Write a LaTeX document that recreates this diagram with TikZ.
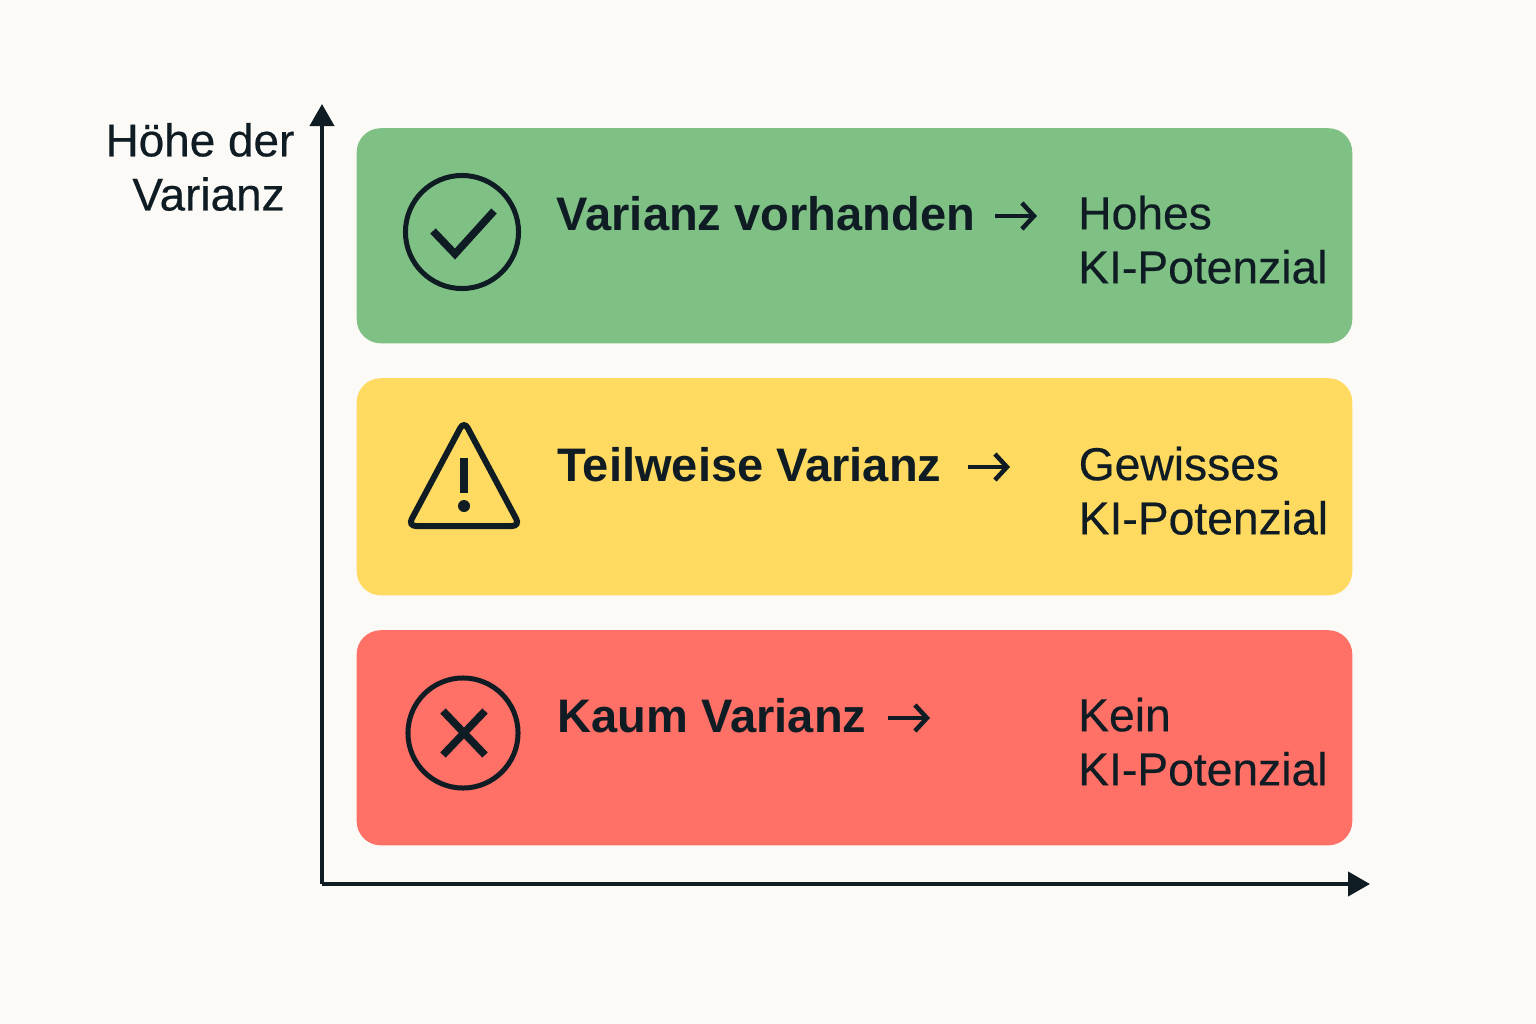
\documentclass[tikz,border=0pt]{standalone}
\usepackage{fontspec}
\setmainfont{Liberation Sans}
\newfontfamily\mittelfont[FakeBold=0.35]{Liberation Sans}
\usetikzlibrary{arrows.meta}
\begin{document}
\begin{tikzpicture}[x=0.01cm, y=-0.01cm,
  band/.style={minimum width=9.95cm, minimum height=2.15cm, rounded corners=0.24cm, anchor=north west},
  lead/.style={anchor=base west, inner sep=0pt, text=colorTinte, font=\bfseries\fontsize{13.38pt}{15.4pt}\selectfont},
  pot/.style={anchor=north west, inner sep=0pt, align=left, text=colorTinte, font=\mittelfont\fontsize{13.15pt}{15.4pt}\selectfont},
  pfeil/.style={draw=colorTinte, line width=0.045cm, -{Straight Barb[length=0.12cm, width=0.26cm]}},
  ring/.style={circle, draw=colorTinte, line width=0.05cm, inner sep=0pt},
  zeichen/.style={draw=colorTinte, line width=0.075cm},
  achse/.style={draw=colorTinte, line width=0.04cm, -{Triangle[length=0.22cm, width=0.24cm]}}
    ]
    % Lokale Farben
    \definecolor{colorGrund}{RGB}{251, 250, 247}
    \definecolor{colorTinte}{RGB}{15, 28, 35}
    \definecolor{colorGruen}{RGB}{127, 192, 132}
    \definecolor{colorGelb}{RGB}{255, 218, 96}
    \definecolor{colorRot}{RGB}{255, 112, 102}

    \fill[colorGrund] (0,0) rectangle (1536,1024);
    \useasboundingbox (0,0) rectangle (1536,1024);

    % Streifen
    \node[band, fill=colorGruen] (hoch) at (356,127.5) {};
    \node[band, fill=colorGelb, minimum height=2.17cm] (mittel) at (356,377.5) {};
    \node[band, fill=colorRot] (tief) at (356,629.5) {};

    % Achsen
    \coordinate (ursprung) at (322,884);
    \coordinate (oben) at (322,104);
    \coordinate (rechts) at (1370,884);
    \draw[achse] (ursprung) -- (oben);
    \draw[achse] (ursprung) -- (rechts);
    \node[inner sep=0pt, align=center, text=colorTinte, font=\mittelfont\fontsize{13.05pt}{15.4pt}\selectfont] (achsentitel) at (200,167) {Höhe der\\\hspace*{0.17cm}Varianz};

    % Gruen
    \node[ring, minimum size=1.13cm] (ok) at (462,232) {};
    \draw[zeichen] (433,231) -- (455,254) -- (494,211);
    \node[lead] (t1) at (556,230) {Varianz vorhanden};
    \coordinate (p1a) at (995,216);
    \coordinate (p1b) at (1037,216);
    \draw[pfeil] (p1a) -- (p1b);
    \node[pot] (k1) at (1077.5,195) {Hohes\\KI-Potenzial};

    % Gelb
    \draw[draw=colorTinte, line width=0.06cm, rounded corners=0.08cm] (464,421) -- (520,526) -- (408,526) -- cycle;
    \fill[colorTinte] (460,458) rectangle (468,493);
    \fill[colorTinte] (464,506) circle (6);
    \node[lead] (t2) at (557,481) {Teilweise Varianz};
    \coordinate (p2a) at (968,467);
    \coordinate (p2b) at (1010,467);
    \draw[pfeil] (p2a) -- (p2b);
    \node[pot] (k2) at (1078,446) {Gewisses\\KI-Potenzial};

    % Rot
    \node[ring, minimum size=1.10cm] (nein) at (463,733) {};
    \draw[zeichen] (443,711) -- (485,755);
    \draw[zeichen] (485,711) -- (443,755);
    \node[lead] (t3) at (557,732) {Kaum Varianz};
    \coordinate (p3a) at (888,718);
    \coordinate (p3b) at (930,718);
    \draw[pfeil] (p3a) -- (p3b);
    \node[pot] (k3) at (1077.5,697) {Kein\\KI-Potenzial};
    \end{tikzpicture}
\end{document}
